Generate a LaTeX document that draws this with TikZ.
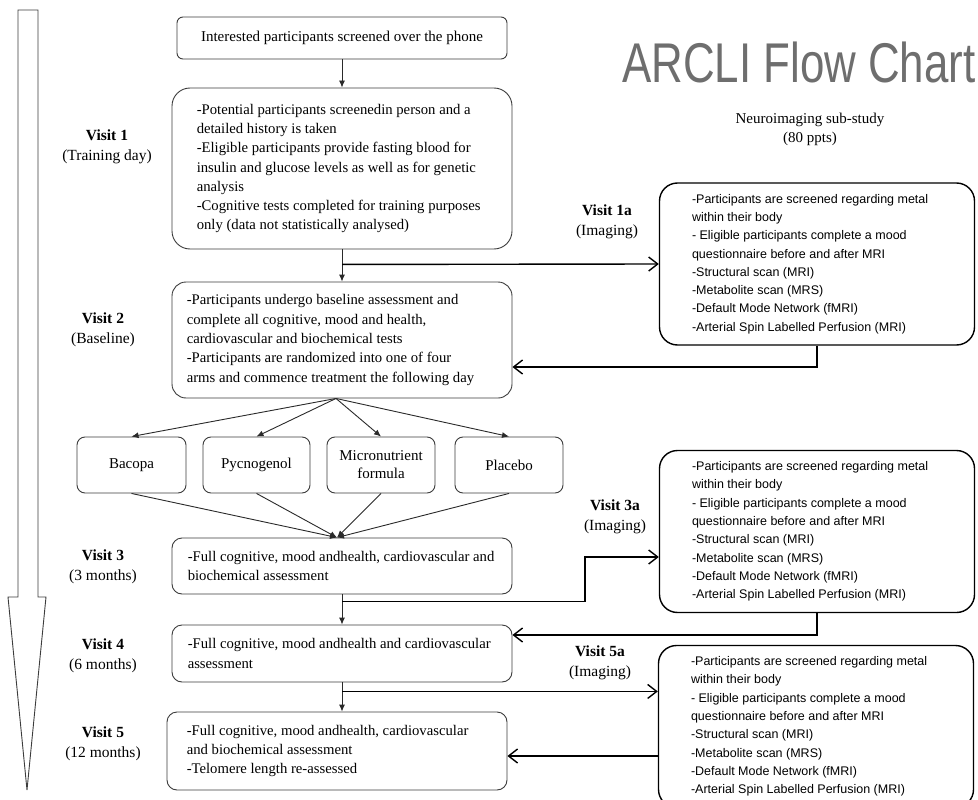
\documentclass[tikz,border=0pt]{standalone}
\usepackage{fontspec}
\setmainfont{Liberation Serif}
\newfontfamily\arialfont{Liberation Sans}
\usetikzlibrary{arrows.meta,calc}
\definecolor{boxgray}{HTML}{3C3C3C}
\definecolor{linegray}{HTML}{2A2A2A}
\definecolor{titlegray}{HTML}{6E6E6E}
\begin{document}
\begin{tikzpicture}[x=1pt,y=-1pt,
  vbox/.style={draw=boxgray, line width=0.9pt, fill=white, inner sep=0pt},
  imgbox/.style={draw=black, line width=1.4pt, rounded corners=18pt, minimum width=315pt, minimum height=162pt, inner sep=0pt},
  flow/.style={draw=linegray, line width=0.9pt, -{Latex[length=7pt,width=6pt]}},
  imgline/.style={draw=black, line width=1.4pt},
  imgarrow/.style={imgline, -{Straight Barb[length=9pt,width=14pt]}},
  vtxt/.style={font=\fontsize{14.7}{19.3}\selectfont, align=left, inner sep=0pt, anchor=west},
  itxt/.style={font=\arialfont\fontsize{12.5}{18.3}\selectfont, align=left, inner sep=0pt, anchor=west},
  lbl/.style={font=\fontsize{15.5}{20}\selectfont, align=center, inner sep=0pt},
  tbox/.style={vbox, rounded corners=8pt, minimum height=56pt, font=\fontsize{15}{18}\selectfont, align=center}
]
\useasboundingbox (0,0) rectangle (978,800);
\fill[white] (0,0) rectangle (978,800);
\begin{scope}
\clip (0,0) rectangle (978,800);

% big timeline arrow
\draw[draw=boxgray, line width=0.9pt] (18,10) -- (38,10) -- (38,597) -- (46,597) -- (27,790) -- (8,597) -- (18,597) -- cycle;

% title
\node[anchor=base west, inner sep=0pt, text=titlegray, font=\arialfont\fontsize{56}{60}\selectfont] (title) at (622,83) {\scalebox{0.783}[1]{ARCLI Flow Chart}};
\node[lbl, font=\fontsize{15}{19}\selectfont] (neuro) at (810,129) {Neuroimaging sub-study\\(80 ppts)};

% main boxes
\node[vbox, rounded corners=6pt, minimum width=330pt, minimum height=42pt, font=\fontsize{15}{18}\selectfont] (top) at (342,38) {Interested participants screened over the phone};

\node[vbox, rounded corners=18pt, minimum width=340pt, minimum height=161pt] (v1) at (342,168.5) {};
\node[vtxt] (v1t) at ($(v1.west)+(25,0)$) {-Potential participants screenedin person and a\\detailed history is taken\\-Eligible participants provide fasting blood for\\insulin and glucose levels as well as for genetic\\analysis\\-Cognitive tests completed for training purposes\\only (data not statistically analysed)};

\node[vbox, rounded corners=14pt, minimum width=340pt, minimum height=116pt] (v2) at (342,340) {};
\node[vtxt] (v2t) at ($(v2.west)+(15,0)$) {-Participants undergo baseline assessment and\\complete all cognitive, mood and health,\\cardiovascular and biochemical tests\\-Participants are randomized into one of four\\arms and commence treatment the following day};

\node[tbox, minimum width=109pt] (tb) at (131.5,465) {Bacopa};
\node[tbox, minimum width=107pt] (tp) at (256.5,465) {Pycnogenol};
\node[tbox, minimum width=108pt] (tm) at (381,465) {Micronutrient\\formula};
\node[tbox, minimum width=108pt] (tc) at (509,465) {Placebo};

\node[vbox, rounded corners=10pt, minimum width=340pt, minimum height=56pt] (v3) at (342,566) {};
\node[vtxt] (v3t) at ($(v3.west)+(16,0)$) {-Full cognitive, mood andhealth, cardiovascular and\\biochemical assessment};

\node[vbox, rounded corners=10pt, minimum width=340pt, minimum height=57pt] (v4) at (342,653.5) {};
\node[vtxt] (v4t) at ($(v4.west)+(16,0)$) {-Full cognitive, mood andhealth and cardiovascular\\assessment};

\node[vbox, rounded corners=10pt, minimum width=340pt, minimum height=78pt] (v5) at (337,751) {};
\node[vtxt] (v5t) at ($(v5.west)+(20,0)$) {-Full cognitive, mood andhealth, cardiovascular\\and biochemical assessment\\-Telomere length re-assessed};

% visit labels
\node[lbl] (l1) at (107,147) {\textbf{Visit 1}\\(Training day)};
\node[lbl] (l2) at (103,330) {\textbf{Visit 2}\\(Baseline)};
\node[lbl] (l3) at (103,567) {\textbf{Visit 3}\\(3 months)};
\node[lbl] (l4) at (103,656) {\textbf{Visit 4}\\(6 months)};
\node[lbl] (l5) at (103,744) {\textbf{Visit 5}\\(12 months)};
\node[lbl] (l1a) at (607,222) {\textbf{Visit 1a}\\(Imaging)};
\node[lbl] (l3a) at (615,517) {\textbf{Visit 3a}\\(Imaging)};
\node[lbl] (l5a) at (600,663) {\textbf{Visit 5a}\\(Imaging)};

% imaging boxes
\node[imgbox] (ia1) at (817,264) {};
\node[itxt] (ia1t) at ($(ia1.west)+(33,0)$) {-Participants are screened regarding metal\\within their body\\- Eligible participants complete a mood\\questionnaire before and after MRI\\-Structural scan (MRI)\\-Metabolite scan (MRS)\\-Default Mode Network (fMRI)\\-Arterial Spin Labelled Perfusion (MRI)};
\node[imgbox] (ia3) at (817,531.5) {};
\node[itxt] (ia3t) at ($(ia3.west)+(33,0)$) {-Participants are screened regarding metal\\within their body\\- Eligible participants complete a mood\\questionnaire before and after MRI\\-Structural scan (MRI)\\-Metabolite scan (MRS)\\-Default Mode Network (fMRI)\\-Arterial Spin Labelled Perfusion (MRI)};
\node[imgbox] (ia5) at (816,726.5) {};
\node[itxt] (ia5t) at ($(ia5.west)+(33,0)$) {-Participants are screened regarding metal\\within their body\\- Eligible participants complete a mood\\questionnaire before and after MRI\\-Structural scan (MRI)\\-Metabolite scan (MRS)\\-Default Mode Network (fMRI)\\-Arterial Spin Labelled Perfusion (MRI)};

% split points
\coordinate (s1) at ($(v1.south)+(0,15)$);
\coordinate (s3) at ($(v3.south)+(0,7)$);
\coordinate (s4) at ($(v4.south)+(0,9)$);
\coordinate (k3) at (585,557);
\coordinate (r1) at ($(v2.east)+(0,27)$);
\coordinate (r3) at ($(v4.east)+(0,-18.5)$);
\coordinate (r5) at (600,756);

% main flow
\draw[flow] (top.south) -- (v1.north);
\draw[flow] (v1.south) -- (v2.north);
\foreach \t in {tb,tp,tm,tc} {
  \draw[flow] ([xshift=-6pt]v2.south) -- (\t.north);
  \draw[flow] (\t.south) -- ([xshift=-5pt]v3.north);
}
\draw[flow] (v3.south) -- (v4.north);
\draw[flow] (v4.south) -- (v4.south |- v5.north);

% imaging connectors
\draw[imgarrow] (s1) -- (ia1.west);
\draw[imgarrow] (ia1.south) |- (r1);
\draw[imgarrow] (s3) -| (k3) -- (ia3.west |- k3);
\draw[imgarrow] (ia3.south) |- (r3);
\draw[imgarrow] (s4) -- (ia5.west |- s4);
\draw[imgarrow] (ia5.west |- r5) -- (v5.east |- r5);
\end{scope}
\end{tikzpicture}
\end{document}
